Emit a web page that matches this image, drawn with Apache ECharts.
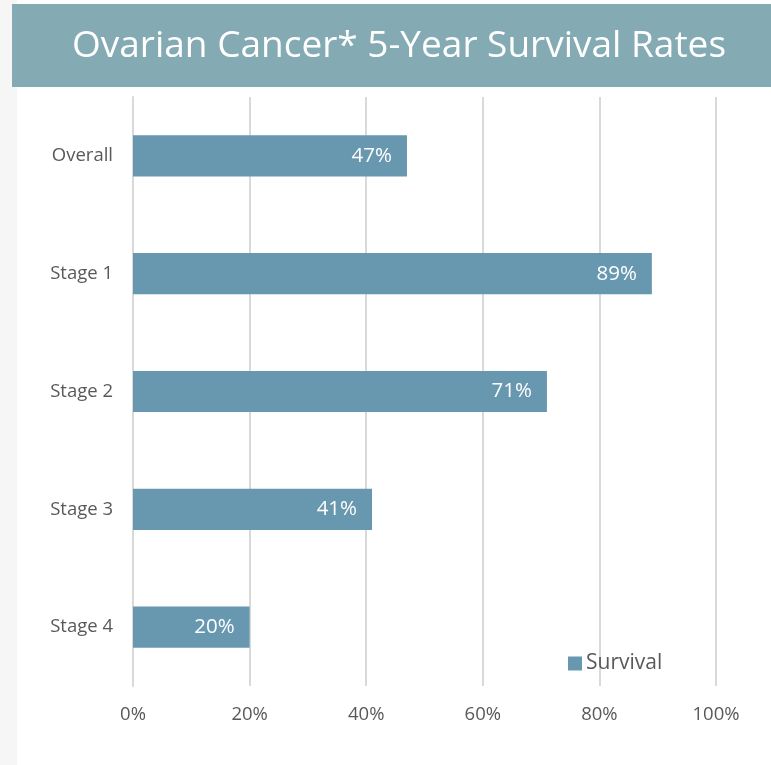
<!DOCTYPE html>
<html><head><meta charset="utf-8">
<script src="https://cdn.jsdelivr.net/npm/echarts@6/dist/echarts.min.js"></script>
<style>html,body{margin:0;padding:0;background:#f6f6f6;}#c{width:771px;height:765px;}</style>
</head><body><div id="c"></div>
<script>
const categories = ['Overall', 'Stage 1', 'Stage 2', 'Stage 3', 'Stage 4'];
const survival = [47, 89, 71, 41, 20];
const seriesName = 'Survival';
const titleText = 'Ovarian Cancer* 5-Year Survival Rates';

const F = '"Open Sans", sans-serif';
const chart = echarts.init(document.getElementById('c'));
chart.setOption({
  animation: false,
  backgroundColor: 'transparent',
  graphic: [
    {type: 'rect', z: -10, shape: {x: 17, y: 0, width: 760, height: 765}, style: {fill: '#ffffff'}},
    {type: 'rect', z: -5, shape: {x: 12, y: 4, width: 760, height: 83}, style: {fill: '#84aab4'}},
    {type: 'text', z: 5, x: 399, y: 46, style: {text: titleText, fill: '#ffffff', font: '37px ' + F, align: 'center', verticalAlign: 'middle'}}
  ],
  legend: {
    data: [seriesName], left: 563, top: 648, itemWidth: 14, itemHeight: 14, itemGap: 4,
    icon: 'rect',
    textStyle: {color: '#595959', fontSize: 21, fontFamily: F, padding: [0,0,0,-1]}
  },
  grid: {left: 133, right: 55, top: 97, bottom: 79, containLabel: false},
  xAxis: {
    type: 'value', min: 0, max: 100, interval: 20,
    axisLine: {show: false}, axisTick: {show: false},
    splitLine: {lineStyle: {color: '#d9d9d9', width: 2}},
    axisLabel: {formatter: '{value}%', color: '#595959', fontSize: 18.5, fontFamily: F, margin: 19}
  },
  yAxis: {
    type: 'category', data: categories, inverse: true,
    axisLine: {show: true, lineStyle: {color: '#d9d9d9', width: 2}},
    axisTick: {show: false},
    axisLabel: {color: '#595959', fontSize: 18.5, fontFamily: F, margin: 20}
  },
  series: [{
    name: seriesName, type: 'bar', data: survival, barWidth: '35%',
    itemStyle: {color: '#6897b0'},
    label: {show: true, position: 'insideRight', formatter: '{c}%', color: '#ffffff', fontSize: 20.5, fontFamily: F, distance: 15}
  }]
});
</script></body></html>
